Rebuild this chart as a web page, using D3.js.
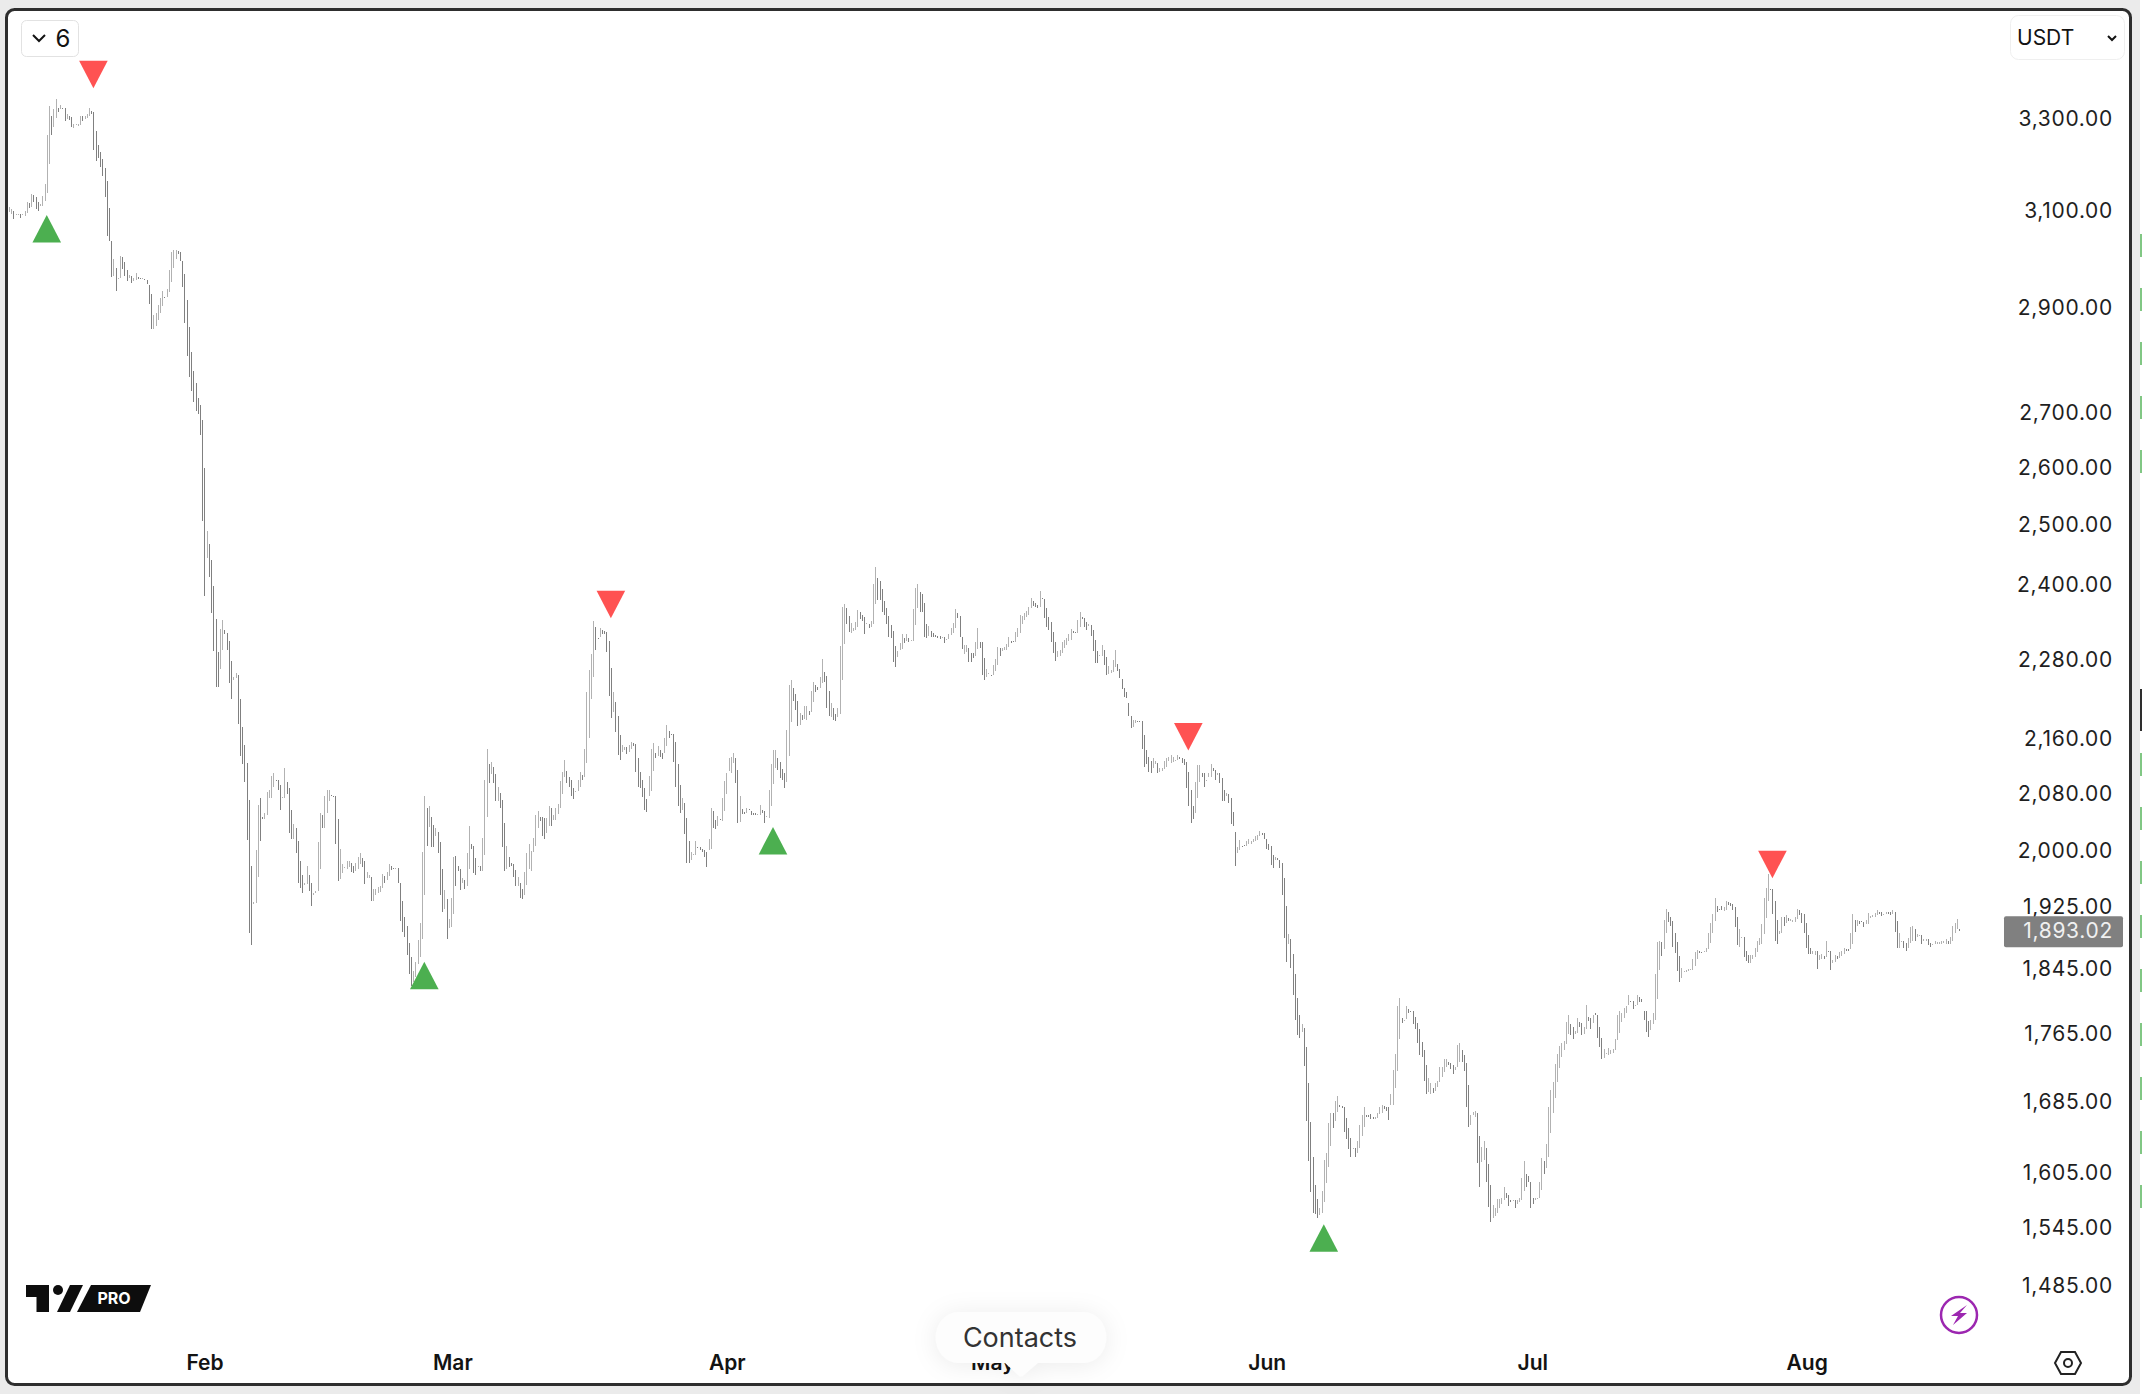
<!DOCTYPE html>
<html>
<head>
<meta charset="utf-8">
<script src="https://cdn.jsdelivr.net/npm/d3@7"></script>
<style>
  html, body { margin: 0; padding: 0; background: #ebebeb; overflow: hidden; }
  svg { display: block; font-family: Inter, "Noto Sans", sans-serif; }
</style>
</head>
<body>
<div id="chart"></div>
<script>
// candle bodies, one per 6h bar
const opens = [
3097,3092,3099,3090,3090,3092,3090,3088,3095,3116,
3107,3133,3129,3118,3109,3109,3120,3137,3201,3307,
3282,3302,3326,3322,3326,3324,3300,3307,3304,3280,
3287,3285,3287,3307,3300,3302,3307,3318,3315,3274,
3241,3227,3212,3192,3162,3105,3035,2963,2981,2957,
2959,3002,2992,2977,2959,2963,2953,2955,2961,2959,
2957,2957,2955,2945,2927,2858,2864,2875,2889,2903,
2921,2921,2931,2951,2981,2998,3014,3012,2994,2967,
2916,2862,2813,2777,2755,2727,2714,2686,2599,2444,
2467,2441,2398,2344,2291,2265,2294,2326,2322,2309,
2277,2248,2251,2256,2219,2177,2150,2124,2071,1980,
1928,1930,1964,2074,2047,2044,2049,2074,2074,2090,
2100,2100,2092,2074,2074,2096,2088,2057,2017,2032,
2013,1986,1967,1954,1955,1967,1957,1941,1943,1946,
1976,2050,2031,2052,2070,2078,2076,2076,2044,1962,
1970,1977,1975,1978,1983,1979,1972,1975,1982,1990,
1986,1963,1963,1964,1932,1941,1943,1945,1950,1966,
1961,1966,1979,1977,1975,1977,1957,1932,1912,1900,
1878,1860,1828,1835,1851,1860,1883,1941,2060,2033,
2047,2036,2020,2026,2012,1976,1922,1935,1897,1898,
1915,1993,1979,1976,1956,1960,1953,1976,2010,2007,
1990,1978,1979,1973,1995,2047,2122,2108,2118,2108,
2069,2081,2071,2038,1976,1991,1983,1982,1974,1952,
1957,1949,1941,1954,1975,1973,1999,2006,2032,2047,
2047,2045,2025,2034,2060,2043,2043,2051,2060,2079,
2104,2112,2104,2100,2088,2083,2083,2089,2107,2104,
2124,2160,2219,2252,2331,2313,2315,2327,2324,2323,
2309,2266,2199,2214,2193,2165,2140,2143,2147,2140,
2144,2153,2151,2131,2111,2100,2088,2072,2076,2083,
2112,2139,2134,2143,2139,2139,2149,2171,2166,2166,
2154,2122,2092,2057,2066,2046,2014,1987,1994,1994,
2005,2005,2002,2001,1998,2001,2003,2055,2043,2035,
2044,2041,2055,2079,2112,2109,2124,2131,2114,2040,
2058,2054,2052,2058,2055,2052,2052,2050,2050,2057,
2055,2047,2045,2063,2094,2116,2131,2125,2115,2110,
2096,2134,2184,2236,2226,2216,2180,2195,2189,2188,
2201,2199,2214,2240,2238,2236,2243,2261,2254,2231,
2192,2205,2197,2192,2197,2248,2304,2362,2349,2321,
2324,2326,2331,2355,2350,2347,2336,2336,2331,2336,
2368,2411,2405,2392,2373,2362,2349,2335,2325,2301,
2284,2295,2297,2313,2309,2314,2309,2309,2335,2362,
2387,2384,2370,2336,2317,2325,2322,2318,2317,2317,
2313,2315,2311,2312,2318,2321,2330,2354,2349,2315,
2289,2291,2298,2290,2290,2285,2296,2308,2308,2282,
2252,2258,2256,2256,2262,2271,2298,2293,2295,2295,
2300,2309,2309,2308,2315,2322,2336,2342,2347,2350,
2362,2373,2370,2366,2363,2378,2376,2362,2347,2339,
2323,2308,2284,2285,2290,2298,2303,2309,2311,2325,
2323,2322,2331,2347,2345,2339,2333,2335,2326,2311,
2293,2286,2286,2295,2284,2258,2259,2261,2268,2273,
2265,2249,2236,2229,2213,2193,2177,2183,2186,2186,
2186,2165,2143,2133,2127,2116,2122,2124,2111,2112,
2115,2118,2127,2124,2125,2127,2128,2133,2131,2130,
2125,2111,2085,2063,2052,2074,2096,2109,2109,2099,
2104,2104,2116,2114,2107,2109,2102,2085,2076,2080,
2074,2054,2026,1997,2001,2007,2008,2007,2010,2010,
2012,2013,2015,2021,2024,2024,2016,2010,2006,1994,
1987,1990,1988,1983,1963,1926,1876,1883,1864,1839,
1809,1787,1767,1772,1749,1706,1661,1622,1591,1576,
1559,1561,1573,1593,1611,1634,1672,1662,1673,1681,
1680,1678,1666,1654,1643,1631,1632,1627,1632,1645,
1656,1669,1669,1671,1667,1665,1666,1670,1672,1680,
1679,1678,1681,1681,1701,1720,1759,1784,1781,1783,
1795,1793,1793,1785,1778,1770,1755,1745,1728,1696,
1694,1700,1697,1702,1708,1713,1719,1725,1731,1730,
1728,1722,1725,1731,1745,1739,1730,1704,1658,1669,
1667,1672,1645,1617,1619,1632,1614,1591,1556,1558,
1561,1566,1571,1575,1583,1580,1575,1574,1575,1571,
1573,1575,1585,1603,1601,1594,1577,1575,1576,1577,
1586,1618,1610,1622,1649,1672,1689,1708,1724,1737,
1745,1752,1765,1777,1773,1765,1766,1779,1778,1765,
1770,1785,1784,1778,1790,1787,1773,1760,1736,1741,
1739,1741,1742,1745,1757,1766,1779,1784,1790,1800,
1805,1805,1799,1800,1810,1807,1793,1793,1780,1769,
1776,1782,1807,1843,1879,1870,1891,1918,1912,1906,
1891,1879,1861,1833,1841,1841,1842,1843,1844,1849,
1857,1867,1866,1866,1866,1870,1878,1891,1906,1926,
1922,1926,1919,1921,1931,1930,1929,1925,1912,1873,
1885,1885,1868,1863,1852,1858,1860,1866,1875,1877,
1889,1910,1932,1949,1949,1932,1907,1889,1891,1912,
1904,1910,1906,1905,1905,1909,1921,1917,1915,1904,
1888,1871,1864,1863,1867,1856,1858,1861,1860,1868,
1868,1852,1854,1861,1859,1861,1864,1870,1870,1870,
1876,1908,1900,1906,1906,1905,1903,1903,1910,1912,
1912,1914,1918,1918,1914,1916,1918,1918,1915,1918,
1906,1872,1880,1880,1878,1871,1878,1881,1896,1886,
1887,1888,1880,1880,1883,1878,1876,1876,1877,1877,
1877,1878,1877,1880,1876,1881,1891,1896,1896
];
const closes = [
3107,3103,3082,3092,3092,3084,3092,3099,3118,3105,
3135,3118,3103,3099,3114,3131,3156,3263,3329,3263,
3322,3346,3315,3331,3322,3296,3311,3298,3282,3289,
3289,3289,3307,3296,3307,3311,3326,3311,3230,3206,
3214,3194,3173,3129,3047,3035,2961,2999,2933,2959,
3004,2979,2963,2953,2965,2949,2959,2969,2957,2957,
2959,2955,2947,2907,2858,2885,2889,2905,2919,2933,
2919,2937,2977,3012,3018,3018,3008,2994,2941,2871,
2806,2766,2739,2719,2703,2697,2659,2507,2381,2489,
2413,2354,2293,2238,2238,2328,2342,2320,2294,2243,
2219,2252,2259,2181,2134,2122,2096,2015,1891,1875,
1931,2001,2064,2013,2044,2052,2082,2085,2105,2109,
2099,2085,2057,2075,2116,2079,2024,2016,2037,1997,
1957,1950,1943,1957,1979,1946,1926,1943,1946,2012,
2052,2031,2076,2085,2085,2076,2075,2010,1959,2002,
1982,1978,1986,1986,1971,1970,1983,1991,1997,1978,
1955,1971,1967,1932,1949,1949,1951,1953,1968,1957,
1971,1982,1974,1975,1977,1957,1906,1892,1886,1863,
1838,1823,1842,1853,1882,1904,1999,2076,2006,2062,
2005,2005,2032,1997,1940,1918,1947,1883,1909,1936,
1991,1952,1973,1947,1963,1948,1997,2034,2003,1970,
1967,1979,1973,2018,2100,2145,2095,2126,2095,2069,
2089,2060,2005,1972,2006,1978,1979,1964,1952,1964,
1937,1935,1971,1997,2010,2000,2018,2050,2055,2041,
2021,2016,2045,2062,2034,2050,2060,2065,2098,2111,
2129,2095,2089,2076,2072,2084,2100,2111,2100,2144,
2230,2263,2289,2340,2295,2312,2329,2320,2320,2291,
2224,2190,2230,2170,2136,2129,2150,2147,2137,2150,
2155,2149,2111,2089,2088,2075,2057,2054,2105,2144,
2153,2131,2149,2133,2130,2161,2180,2161,2165,2125,
2090,2062,2052,2074,2023,1984,1984,1998,1996,2013,
2004,2001,1998,1992,1978,2016,2060,2031,2030,2048,
2043,2074,2098,2109,2131,2133,2139,2095,2038,2076,
2051,2051,2060,2057,2050,2050,2050,2051,2064,2052,
2038,2048,2085,2122,2143,2143,2114,2102,2100,2088,
2173,2240,2248,2216,2203,2178,2198,2188,2209,2208,
2195,2231,2245,2229,2232,2252,2281,2245,2205,2193,
2213,2187,2186,2205,2301,2363,2368,2336,2323,2338,
2330,2339,2358,2344,2341,2320,2338,2330,2341,2400,
2428,2375,2375,2355,2350,2336,2315,2313,2276,2268,
2293,2306,2320,2306,2320,2308,2311,2360,2394,2400,
2355,2355,2315,2313,2333,2315,2315,2315,2313,2312,
2315,2306,2312,2320,2330,2338,2360,2346,2315,2296,
2303,2303,2276,2276,2282,2308,2330,2298,2255,2248,
2265,2259,2254,2271,2281,2300,2285,2298,2300,2304,
2315,2306,2308,2323,2330,2350,2349,2354,2357,2363,
2378,2365,2363,2362,2389,2376,2345,2331,2326,2308,
2290,2277,2293,2295,2308,2311,2314,2320,2328,2322,
2322,2342,2355,2344,2331,2326,2336,2317,2293,2274,
2274,2287,2303,2271,2256,2270,2263,2279,2295,2262,
2251,2234,2222,2220,2193,2175,2187,2187,2184,2184,
2145,2118,2122,2111,2109,2131,2127,2109,2116,2116,
2127,2131,2133,2136,2133,2128,2136,2130,2124,2121,
2088,2062,2038,2044,2096,2121,2121,2104,2089,2100,
2109,2122,2112,2100,2109,2095,2069,2069,2081,2066,
2037,2035,1980,2005,2015,2006,2007,2013,2017,2013,
2017,2021,2022,2028,2022,2016,2003,2001,1981,1977,
1991,1987,1977,1940,1884,1854,1890,1846,1812,1781,
1763,1760,1776,1726,1663,1618,1584,1561,1560,1556,
1566,1585,1619,1626,1660,1672,1655,1685,1691,1678,
1677,1650,1642,1631,1622,1632,1622,1640,1658,1669,
1679,1667,1667,1665,1665,1667,1672,1678,1681,1676,
1674,1664,1694,1721,1741,1799,1809,1778,1782,1798,
1790,1792,1776,1770,1754,1739,1737,1709,1694,1712,
1706,1695,1706,1709,1725,1725,1734,1735,1727,1723,
1717,1725,1751,1754,1731,1720,1679,1656,1669,1673,
1674,1615,1589,1633,1640,1595,1568,1551,1570,1566,
1576,1576,1577,1589,1577,1569,1573,1575,1566,1575,
1577,1599,1618,1589,1594,1566,1571,1577,1577,1595,
1621,1603,1636,1678,1698,1707,1729,1740,1750,1754,
1756,1779,1788,1763,1758,1768,1784,1773,1763,1773,
1800,1780,1771,1788,1787,1760,1749,1735,1747,1742,
1748,1745,1747,1758,1787,1793,1790,1796,1798,1812,
1803,1795,1800,1812,1803,1803,1781,1767,1761,1782,
1790,1838,1879,1880,1861,1907,1922,1905,1900,1873,
1865,1842,1828,1846,1842,1843,1845,1845,1857,1866,
1869,1865,1865,1867,1871,1891,1904,1915,1936,1918,
1921,1921,1925,1932,1927,1926,1921,1899,1875,1896,
1886,1860,1855,1852,1863,1863,1872,1880,1884,1903,
1936,1950,1968,1948,1915,1880,1876,1893,1912,1900,
1914,1906,1909,1907,1912,1922,1914,1904,1891,1872,
1864,1864,1868,1867,1845,1862,1864,1858,1880,1867,
1843,1856,1862,1857,1866,1867,1871,1868,1868,1891,
1915,1892,1908,1903,1905,1898,1908,1917,1913,1914,
1917,1921,1915,1913,1915,1918,1916,1914,1921,1892,
1872,1891,1881,1872,1868,1884,1899,1900,1880,1890,
1888,1877,1883,1883,1875,1873,1877,1880,1879,1879,
1880,1881,1883,1876,1885,1900,1904,1909,1893.02
];

const priceTicks = [3300, 3100, 2900, 2700, 2600, 2500, 2400, 2280, 2160, 2080, 2000, 1925, 1845, 1765, 1685, 1605, 1545, 1485];
const lastPrice = 1893.02;

// triangles: index of the bar they belong to, price of the tip
const buyBars = [17, 187, 344, 592];
const buyPrices = [3090, 1854, 2033, 1549];
const sellBars = [38, 271, 531, 794];
const sellPrices = [3370, 2345, 2142, 1963];

const width = 2142;
const height = 1394;
const barCount = Math.min(opens.length, closes.length);

const svg = d3.select("#chart").append("svg")
  .attr("width", width)
  .attr("height", height);

// page + panel
svg.append("rect").attr("width", width).attr("height", height).attr("fill", "#ebebeb");
svg.append("rect")
  .attr("x", 2140).attr("y", 0).attr("width", 2).attr("height", height)
  .attr("fill", "#ffffff");

const sideMarks = [234, 288, 342, 396, 450, 753, 807, 861, 915, 969, 1023, 1077, 1131, 1185];
svg.append("g").selectAll("rect").data(sideMarks).join("rect")
  .attr("x", 2140).attr("y", d => d).attr("width", 2).attr("height", 23)
  .attr("fill", "#81c784");
svg.append("rect")
  .attr("x", 2140).attr("y", 689).attr("width", 2).attr("height", 42)
  .attr("fill", "#2e2e2e");

svg.append("rect")
  .attr("x", 6.5).attr("y", 9.5).attr("width", 2124).attr("height", 1375)
  .attr("rx", 8)
  .attr("fill", "#ffffff")
  .attr("stroke", "#2e2e2e")
  .attr("stroke-width", 3);

const priceScale = d3.scaleLog().domain([3300, 1485]).range([119, 1286]);
const barX = d3.scaleLinear().domain([0, barCount - 1]).range([9, 1959]);
const timeScale = d3.scaleUtc()
  .domain([new Date(Date.UTC(2026, 0, 9, 22)), new Date(Date.UTC(2026, 7, 18, 5))])
  .range([9, 1959]);

// bars
svg.append("g")
  .attr("shape-rendering", "crispEdges")
  .selectAll("rect")
  .data(d3.range(barCount))
  .join("rect")
  .attr("x", i => Math.round(barX(i)))
  .attr("width", 1)
  .attr("y", i => priceScale(Math.max(opens[i], closes[i])))
  .attr("height", i => Math.max(1, Math.abs(priceScale(opens[i]) - priceScale(closes[i]))))
  .attr("fill", i => (closes[i] < opens[i] ? "#808080" : "#b2b2b2"));

// price axis
const yAxis = d3.axisLeft(priceScale)
  .tickValues(priceTicks)
  .tickSize(0)
  .tickPadding(0)
  .tickFormat(d3.format(",.2f"));

const yAxisG = svg.append("g").attr("transform", "translate(2113,0)").call(yAxis);
yAxisG.select(".domain").remove();
yAxisG.selectAll("text")
  .attr("fill", "#1f1f1f")
  .style("font-family", "Inter, sans-serif")
  .style("font-size", "21px")
  .style("letter-spacing", "0.7px");

// last price tag
const tagY = priceScale(lastPrice);
svg.append("rect")
  .attr("x", 2004).attr("y", tagY - 15).attr("width", 119).attr("height", 31)
  .attr("rx", 2)
  .attr("fill", "#808080");
svg.append("text")
  .attr("x", 2113).attr("y", tagY)
  .attr("dy", "0.32em")
  .attr("text-anchor", "end")
  .attr("fill", "#f0f0f0")
  .style("font-size", "21px")
  .style("letter-spacing", "0.7px")
  .text(d3.format(",.2f")(lastPrice));

// time axis
const xAxis = d3.axisBottom(timeScale)
  .ticks(d3.utcMonth.every(1))
  .tickSize(0)
  .tickPadding(0)
  .tickFormat(d3.utcFormat("%b"));

const xAxisG = svg.append("g").attr("transform", "translate(0,1355)").call(xAxis);
xAxisG.select(".domain").remove();
xAxisG.selectAll("text")
  .attr("fill", "#131313")
  .style("font-family", "Inter, sans-serif")
  .style("font-size", "21px")
  .style("font-weight", 600);

// signal triangles, drawn from the tip
const triW = 14.3;
const triH = 27.5;
const triangle = (x, y, dir) => {
  const p = d3.path();
  p.moveTo(x, y);
  p.lineTo(x - triW, y + dir * triH);
  p.lineTo(x + triW, y + dir * triH);
  p.closePath();
  return p.toString();
};

svg.append("g").selectAll("path").data(buyBars).join("path")
  .attr("d", (d, i) => triangle(barX(d), priceScale(buyPrices[i]), 1))
  .attr("fill", "#4caf50");

svg.append("g").selectAll("path").data(sellBars).join("path")
  .attr("d", (d, i) => triangle(barX(d), priceScale(sellPrices[i]), -1))
  .attr("fill", "#ff5252");

// top left pill
svg.append("rect")
  .attr("x", 21.5).attr("y", 20.5).attr("width", 57).attr("height", 36)
  .attr("rx", 5)
  .attr("fill", "#fff").attr("stroke", "#e2e2e2");
svg.append("path")
  .attr("d", "M33 35l6 6l6-6")
  .attr("fill", "none").attr("stroke", "#131313").attr("stroke-width", 2);
svg.append("text")
  .attr("x", 63).attr("y", 47)
  .attr("text-anchor", "middle")
  .attr("fill", "#131313")
  .style("font-size", "24px")
  .text("6");

// top right pill
svg.append("rect")
  .attr("x", 2010.5).attr("y", 15.5).attr("width", 114).attr("height", 44)
  .attr("rx", 8)
  .attr("fill", "#fff").attr("stroke", "#efefef");
svg.append("text")
  .attr("x", 2017).attr("y", 45)
  .attr("fill", "#131313")
  .style("font-size", "21px")
  .text("USDT");
svg.append("path")
  .attr("d", "M2108 36l4 4l4-4")
  .attr("fill", "none").attr("stroke", "#131313").attr("stroke-width", 2);

// logo
const logo = svg.append("g").attr("fill", "#0d0d0d");
logo.append("path").attr("d", "M26 1285H49V1312H36.5V1297H26Z");
logo.append("circle").attr("cx", 58).attr("cy", 1290).attr("r", 5);
logo.append("path").attr("d", "M70 1285H83L70 1312H57Z");
logo.append("path").attr("d", "M91 1285H151L140 1312H77Z");
svg.append("text")
  .attr("x", 114).attr("y", 1304)
  .attr("text-anchor", "middle")
  .attr("fill", "#fff")
  .style("font-size", "16px")
  .style("font-weight", 700)
  .text("PRO");

// lightning badge
svg.append("circle")
  .attr("cx", 1959).attr("cy", 1315).attr("r", 18)
  .attr("fill", "#fff").attr("stroke", "#9c27b0").attr("stroke-width", 2.5);
svg.append("path")
  .attr("d", "M1967 1305L1951 1316H1958L1953 1325L1967 1313H1960Z")
  .attr("fill", "#9c27b0");

// settings hexagon
svg.append("path")
  .attr("d", "M2055 1363L2061 1352H2075L2081 1363L2075 1374H2061Z")
  .attr("fill", "#fff").attr("stroke", "#222").attr("stroke-width", 2);
svg.append("circle")
  .attr("cx", 2068).attr("cy", 1363).attr("r", 4)
  .attr("fill", "none").attr("stroke", "#222").attr("stroke-width", 2);

// contacts bubble on top of the May label
svg.append("path")
  .attr("d", "M958 1312H1084A22 25 0 0 1 1084 1363H1038L1024 1375Q1021 1378 1018 1375L1005 1363H958A22 25 0 0 1 958 1312Z")
  .attr("fill", "#fdfdfd")
  .style("filter", "drop-shadow(0 2px 12px rgba(0,0,0,0.08))");
svg.append("text")
  .attr("x", 1020).attr("y", 1347)
  .attr("text-anchor", "middle")
  .attr("fill", "#333")
  .style("font-size", "27px")
  .text("Contacts");
</script>
</body>
</html>
